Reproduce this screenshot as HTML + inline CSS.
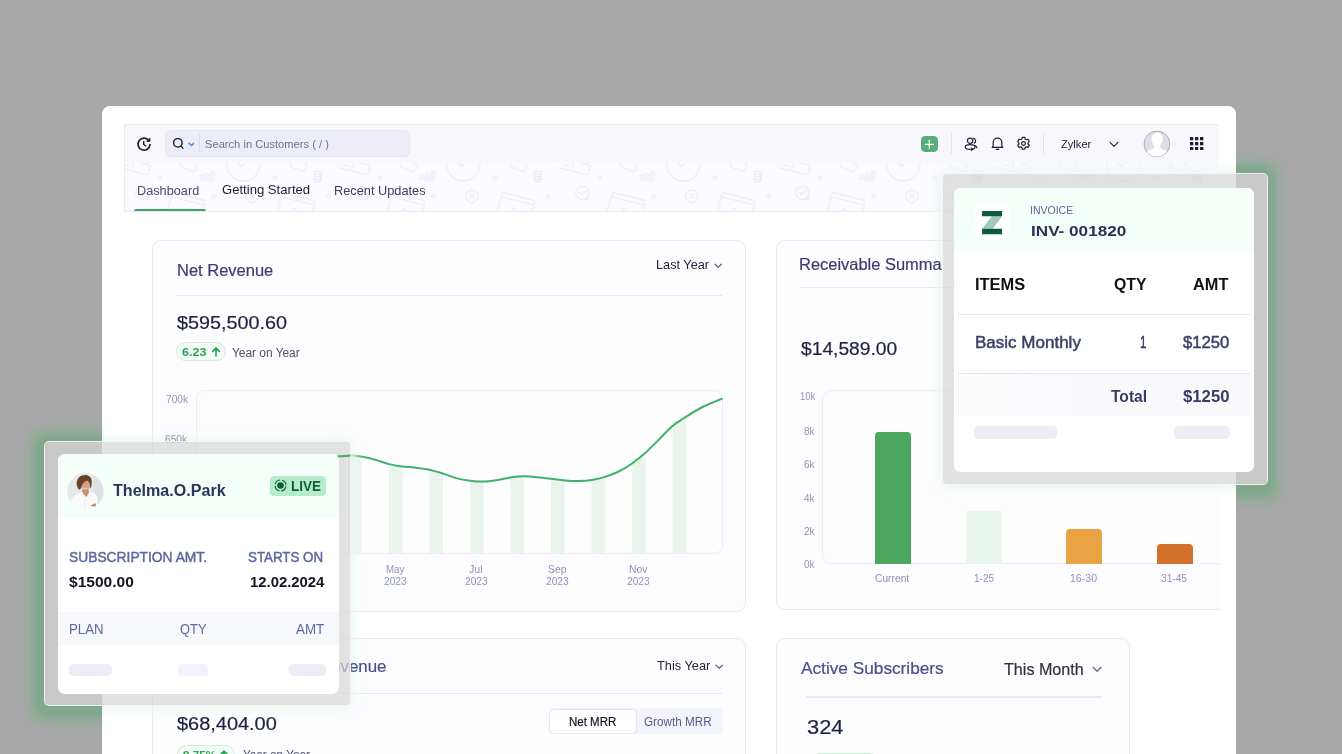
<!DOCTYPE html>
<html><head><meta charset="utf-8">
<style>
*{box-sizing:border-box;margin:0;padding:0}
html,body{width:1342px;height:754px;overflow:hidden;background:#a8a8a8;font-family:"Liberation Sans",sans-serif;}
.abs{position:absolute}
#stage{position:relative;width:1342px;height:754px;overflow:hidden}
.glow{position:absolute;border-radius:5px}
#panel{position:absolute;left:102px;top:106px;width:1134px;height:700px;background:#fff;border-radius:8px;overflow:hidden;z-index:0}
#pg .txt{z-index:2}
#pg{position:absolute;left:-102px;top:-106px;width:1342px;height:900px}
.txt{position:absolute;white-space:nowrap;line-height:1}
.card{position:absolute;border:1px solid #e7e7f3;border-radius:9px;background:#fdfdff}
.hr{position:absolute;height:1px;background:#e6e6f4}
.frame{position:absolute;background:rgba(214,214,214,.71);border:1.500px solid rgba(250,250,250,.8);border-radius:5px}
.haze{position:absolute;z-index:1;border-radius:8px;box-shadow:0 0 9px 3px rgba(214,237,220,.5),0 0 11px 6px rgba(252,255,253,.75)}
.fcard{position:absolute;background:#fff;border-radius:6.500px;overflow:hidden}
.pill{position:absolute;background:#ecedf5;border-radius:4.500px}
.gp{position:absolute;border:1px solid #cfeeda;background:#f4fcf7;border-radius:9.500px}
</style></head><body>
<div id="stage">
<div class="glow" style="left:45px;top:441.5px;width:304.5px;height:263px;box-shadow:-0.5px 2.5px 4px 9.5px rgba(128,168,140,.96),-0.5px 2.5px 4px 15.7px rgba(148,172,154,.85),-0.5px 2.5px 6px 20.2px rgba(160,172,163,.3)"></div>
<div class="glow" style="left:943px;top:173.5px;width:324px;height:310px;box-shadow:-3px 1.7px 4px 10.5px rgba(128,168,140,.96),-3px 1.7px 4px 16.7px rgba(148,172,154,.85),-3px 1.7px 6px 21.2px rgba(160,172,163,.3)"></div>
<div id="panel"><div id="pg">

<div class="abs" style="left:124px;top:124px;width:1094.500px;height:87.500px;border:1px solid #ebebf5;border-right:none;background:#fafaff;overflow:hidden">
  <div class="abs" style="left:0;top:0;width:100%;height:38px;background:#f7f7fc"></div>
  <svg class="abs" style="left:0;top:38px" width="1095" height="48" viewBox="0 0 1095 48">
   <defs><pattern id="dd" width="220" height="48" patternUnits="userSpaceOnUse" patternTransform="translate(34.500 0)">
    <g fill="none" stroke="#ebebf8" stroke-width="1.2" stroke-linecap="round" stroke-linejoin="round">
      <circle cx="0" cy="14.500" r="1.700"/><circle cx="220" cy="14.500" r="1.700"/>
      <circle cx="115.500" cy="14.500" r="1.700"/>
      <circle cx="54" cy="33.500" r="1.700"/><circle cx="168.800" cy="33.500" r="1.700"/>
      <g transform="translate(48.400 13.800) rotate(10)"><rect x="-7.500" y="-1" width="3" height="5" rx="1.500"/><rect x="-2.500" y="-3" width="3" height="7" rx="1.500"/><rect x="2.800" y="-6" width="3" height="10" rx="1.500"/></g>
      <circle cx="83.800" cy="1.600" r="16.500"/><path d="M77 -1l5 4.500 8-8"/>
      <circle cx="92.400" cy="33.200" r="6.300"/><path d="M90.400 31.200l4 4m0-4l-4 4"/>
      <g transform="translate(158.300 13.500)"><ellipse cx="0" cy="-4" rx="3.400" ry="1.700"/><path d="M-3.400-4v7.500a3.400 1.700 0 0 0 6.800 0v-7.500M-3.400-1.400a3.400 1.700 0 0 0 6.800 0M-3.400 1.200a3.400 1.700 0 0 0 6.800 0"/></g>
      <g transform="translate(26 42) rotate(14)"><rect x="-16" y="-9" width="34" height="20" rx="2"/><path d="M-16-4.500h34"/><circle cx="0" cy="6" r="2"/></g>
      <g transform="translate(136 42) rotate(14)"><rect x="-16" y="-9" width="34" height="20" rx="2"/><path d="M-16-4.500h34"/><circle cx="0" cy="6" r="2"/></g>
      <circle cx="203" cy="29.800" r="6.700"/><path d="M200 29.500l2.300 2.300 4-4.300M206 36.500l3 .8-.8-3"/>
      <g transform="translate(139 2.500) rotate(20)"><rect x="-8" y="-4" width="16" height="8" rx="2"/></g>
      <g transform="translate(29 2.500) rotate(20)"><rect x="-8" y="-4" width="16" height="8" rx="2"/></g>
      <g transform="translate(197 4) rotate(14)"><rect x="-4" y="-5" width="17" height="10" rx="2"/><path d="M-16-3h9M-13 1h6M-17 5h11"/></g>
      <g transform="translate(-22 4) rotate(14)"><rect x="-4" y="-5" width="17" height="10" rx="2"/><path d="M-16-3h9M-13 1h6M-17 5h11"/></g>
      <rect x="-54" y="8" width="3" height="12" rx="1.500" transform="rotate(8)"/>
    </g></pattern></defs>
   <rect width="1095" height="48" fill="url(#dd)"/>
  </svg>
</div>
<svg class="abs" style="left:135.800px;top:135.700px" width="16" height="16" viewBox="0 0 16 16" fill="none" stroke="#1b1e33" stroke-width="1.7" stroke-linecap="round" stroke-linejoin="round"><path d="M12.900 4.700A6 6 0 1 0 14 8.600"/><path d="M13.900 2.300v3.100h-3.100z" fill="#1b1e33" stroke-width=".8"/><path d="M7.700 5.600v2.900l1.900 1.300" stroke-width="1.500"/></svg>
<div class="abs" style="left:165px;top:130px;width:245px;height:27px;background:#ededf7;border:1px solid #e5e5f1;border-radius:6px"></div>
<svg class="abs" style="left:172px;top:136.700px" width="13" height="13" viewBox="0 0 14 14" fill="none" stroke="#1b1e33" stroke-width="1.5" stroke-linecap="round"><circle cx="6.300" cy="6.300" r="4.600"/><path d="M9.800 9.800l2 2.400"/></svg>
<svg class="abs" style="left:187.600px;top:142px" width="6.800" height="5.100" viewBox="0 0 8 6" fill="none" stroke="#4a8cf0" stroke-width="1.9" stroke-linecap="round" stroke-linejoin="round"><path d="M1.200 1.500l2.800 2.600 2.800-2.600"/></svg>
<div class="abs" style="left:199px;top:134px;width:1px;height:19px;background:#dcdcea"></div>
<div class="txt" style="left:204.90px;top:139.00px;font-size:11.50px;color:#6d7291;transform:scaleX(0.9694);transform-origin:0 0;">Search in Customers ( / )</div>

<div class="abs" style="left:921.200px;top:135.600px;width:16.700px;height:16.500px;background:#56af7b;border-radius:4.300px"></div>
<svg class="abs" style="left:921.200px;top:135.600px" width="16.700" height="16.500" viewBox="0 0 17 17" stroke="#fff" stroke-width="1.400" stroke-linecap="round"><path d="M8.500 4.500v8.200M4.300 8.600h8.400"/></svg>
<div class="abs" style="left:951px;top:133px;width:1px;height:21px;background:#e3e5ee"></div>
<svg class="abs" style="left:964px;top:136px" width="15" height="15" viewBox="0 0 15 15" fill="none" stroke="#24273d" stroke-width="1.25" stroke-linecap="round" stroke-linejoin="round"><circle cx="6.100" cy="4.700" r="2.700"/><ellipse cx="6.100" cy="10.900" rx="4.900" ry="2.400"/><path d="M9.600 2.400a2.500 2.500 0 0 1 .6 4.700"/><path d="M10.700 9.300c1.200.5 2 1.400 2.300 2.500"/><path d="M7.400 12.200l1.700 1.100-1.700 1" stroke-width="1.100"/></svg>
<svg class="abs" style="left:991px;top:135.700px" width="13" height="15" viewBox="0 0 14 16" fill="none" stroke="#1b1e33" stroke-width="1.3" stroke-linecap="round" stroke-linejoin="round"><path d="M2.300 11V7a4.700 4.700 0 0 1 9.400 0v4l1 1.200H1.300z"/><path d="M5.600 14.300h2.800"/></svg>
<svg class="abs" style="left:1016px;top:135.800px" width="15" height="15" viewBox="0 0 16 16" fill="none" stroke="#1b1e33" stroke-width="1.25" stroke-linejoin="round"><path d="M6.600 1.500h2.800l.4 1.800 1.300.7 1.700-.6 1.400 2.400-1.300 1.200v1.500l1.300 1.200-1.400 2.400-1.700-.6-1.300.7-.4 1.800H6.600l-.4-1.800-1.300-.7-1.700.6-1.400-2.400 1.300-1.200V7l-1.300-1.200 1.400-2.400 1.700.6 1.300-.7z"/><circle cx="8" cy="8" r="2"/></svg>
<div class="abs" style="left:1042.800px;top:133px;width:1px;height:21px;background:#e2e2ee"></div>
<div class="txt" style="left:1060.50px;top:139.00px;font-size:11.50px;color:#1b1e33;transform:scaleX(0.9680);transform-origin:0 0;">Zylker</div>

<svg class="abs" style="left:1109.200px;top:140.700px" width="10" height="7" viewBox="0 0 10 7" fill="none" stroke="#1b1e33" stroke-width="1.1" stroke-linecap="round" stroke-linejoin="round"><path d="M1 1.300l4 4 4-4"/></svg>
<svg class="abs" style="left:1142.600px;top:129.900px" width="28" height="28" viewBox="0 0 28 28"><defs><clipPath id="ac"><circle cx="14" cy="14" r="12.600"/></clipPath></defs><circle cx="14" cy="14" r="12.900" fill="#dedee9" stroke="#a6a6ae" stroke-width=".9"/><g clip-path="url(#ac)" fill="#fff"><ellipse cx="14.100" cy="9.200" rx="5.600" ry="6.800"/><path d="M11 13h6.200v4c0 1.500 1.500 2.200 4 3 2.500.8 3.800 2 3.800 8H3c0-6 1.300-7.200 3.800-8 2.500-.8 4.200-1.500 4.200-3z"/></g></svg>
<svg class="abs" style="left:1190px;top:136.700px" width="13.500" height="13.500" viewBox="0 0 14 14" fill="#1b1e33"><rect x="0" y="0" width="3.400" height="3.400"/><rect x="5.200" y="0" width="3.400" height="3.400"/><rect x="10.400" y="0" width="3.400" height="3.400"/><rect x="0" y="5.200" width="3.400" height="3.400"/><rect x="5.200" y="5.200" width="3.400" height="3.400"/><rect x="10.400" y="5.200" width="3.400" height="3.400"/><rect x="0" y="10.400" width="3.400" height="3.400"/><rect x="5.200" y="10.400" width="3.400" height="3.400"/><rect x="10.400" y="10.400" width="3.400" height="3.400"/></svg>
<div class="txt" style="left:136.70px;top:184.00px;font-size:13.00px;color:#4a4f6c;transform:scaleX(0.9780);transform-origin:0 0;">Dashboard</div>
<div class="txt" style="left:222.10px;top:183.00px;font-size:13.00px;color:#1b1e33;transform:scaleX(1.0076);transform-origin:0 0;">Getting Started</div>
<div class="txt" style="left:333.90px;top:184.00px;font-size:13.00px;color:#3a3f5c;transform:scaleX(0.9826);transform-origin:0 0;">Recent Updates</div>

<div class="abs" style="left:134px;top:208.700px;width:72px;height:2.800px;background:#3aa862;border-radius:2.500px 2.500px 0 0"></div>

<div class="card" style="left:152px;top:240px;width:594px;height:372px"></div>
<div class="txt" style="left:176.80px;top:263.00px;font-size:16.00px;color:#3d3a72;transform:scaleX(1.0311);transform-origin:0 0;-webkit-text-stroke:.2px #3d3a72;">Net Revenue</div>
<div class="txt" style="left:655.70px;top:258.00px;font-size:13.00px;color:#23263b;transform:scaleX(0.9777);transform-origin:0 0;">Last Year</div>
<svg class="abs" style="left:713.9px;top:263.1px" width="8.4" height="5.9" viewBox="0 0 10 7" fill="none" stroke="#6a6f90" stroke-width="1.70" stroke-linecap="round" stroke-linejoin="round"><path d="M1.3 1.4l3.7 3.7 3.7-3.700"/></svg>
<div class="hr" style="left:176px;top:295px;width:545.500px"></div>
<div class="txt" style="left:177.40px;top:314.00px;font-size:18.30px;color:#1f2240;transform:scaleX(1.0809);transform-origin:0 0;-webkit-text-stroke:.2px #1f2240;">$595,500.60</div>

<div class="gp" style="left:176px;top:342.300px;width:49.800px;height:18.800px"></div>
<div class="txt" style="left:181.90px;top:347.00px;font-size:11.50px;color:#2aa34f;transform:scaleX(1.0903);transform-origin:0 0;font-weight:bold;">6.23</div>
<svg class="abs" style="left:210.5px;top:346.8px" width="10" height="10" viewBox="0 0 10 10" fill="none" stroke="#1f9a48" stroke-width="1.5" stroke-linecap="round" stroke-linejoin="round"><path d="M5 9V1.200M1.700 4.400L5 1.100l3.300 3.300"/></svg><div class="txt" style="left:232.00px;top:347.00px;font-size:12.00px;color:#4a4f6c;transform:scaleX(0.9913);transform-origin:0 0;">Year on Year</div>
<div class="txt" style="left:166.10px;top:395.00px;font-size:10.30px;color:#8e93b8;transform:scaleX(0.9888);transform-origin:0 0;">700k</div>
<div class="txt" style="left:164.90px;top:435.00px;font-size:10.30px;color:#8e93b8;transform:scaleX(0.9888);transform-origin:0 0;">650k</div>
<div class="txt" style="left:164.90px;top:475.00px;font-size:10.30px;color:#8e93b8;transform:scaleX(0.9888);transform-origin:0 0;">600k</div>
<div class="txt" style="left:164.90px;top:515.00px;font-size:10.30px;color:#8e93b8;transform:scaleX(0.9888);transform-origin:0 0;">550k</div>

<div class="abs" style="left:196px;top:390px;width:526.500px;height:163.500px;border:1px solid #ececf6;border-radius:9px;background:#fdfdfe"></div>
<svg class="abs" style="left:0;top:0" width="1342" height="754"><g fill="#e9f4ed"><rect x="226.8" y="461.0" width="13.5" height="91.9"/><rect x="267.3" y="457.0" width="13.5" height="95.9"/><rect x="307.9" y="457.5" width="13.5" height="95.4"/><rect x="348.4" y="455.8" width="13.5" height="97.1"/><rect x="388.9" y="465.3" width="13.5" height="87.6"/><rect x="429.5" y="471.7" width="13.5" height="81.2"/><rect x="470.0" y="481.1" width="13.5" height="71.8"/><rect x="510.6" y="476.9" width="13.5" height="76.0"/><rect x="551.1" y="479.6" width="13.5" height="73.3"/><rect x="591.7" y="478.4" width="13.5" height="74.5"/><rect x="632.2" y="458.0" width="13.5" height="94.9"/><rect x="672.8" y="421.2" width="13.5" height="131.7"/></g><path d="M197.0 470.0C200.0 469.3 208.9 467.5 215.0 466.0C221.1 464.5 227.0 462.3 233.5 461.0C240.0 459.7 247.2 458.7 254.0 458.0C260.8 457.3 267.2 457.1 274.0 457.0C280.8 456.9 288.2 457.4 295.0 457.5C301.8 457.6 308.7 457.6 314.5 457.5C320.3 457.4 325.8 457.0 330.0 456.8C334.2 456.6 336.3 456.5 340.0 456.3C343.7 456.1 348.0 455.3 352.0 455.4C356.0 455.5 359.8 456.1 363.8 456.9C367.8 457.6 371.6 458.7 375.8 459.9C380.0 461.1 384.9 463.0 389.2 464.1C393.5 465.2 397.5 465.8 401.7 466.4C405.9 467.0 409.9 467.1 414.5 467.6C419.1 468.2 424.3 468.7 429.1 469.7C433.9 470.7 438.6 472.2 443.1 473.6C447.6 475.0 451.7 476.9 456.2 478.1C460.7 479.3 465.7 480.1 470.3 480.7C474.9 481.3 479.1 481.7 483.7 481.6C488.3 481.5 493.5 480.6 498.0 479.9C502.5 479.2 506.2 478.1 510.5 477.5C514.8 476.9 519.5 476.4 523.9 476.3C528.3 476.2 532.2 476.8 536.7 477.2C541.2 477.6 546.0 478.2 550.7 478.7C555.4 479.2 560.1 480.0 564.7 480.4C569.3 480.8 574.0 481.1 578.5 481.0C583.0 480.9 587.5 480.6 591.9 479.9C596.3 479.2 600.5 478.3 605.0 476.9C609.5 475.5 614.2 473.7 618.7 471.5C623.2 469.3 627.7 466.6 632.1 463.5C636.5 460.4 640.7 457.0 645.2 453.0C649.7 449.0 654.4 444.1 658.9 439.6C663.4 435.1 667.7 430.1 672.3 426.2C676.9 422.3 681.4 419.7 686.6 416.4C691.8 413.1 697.7 409.4 703.6 406.5C709.5 403.6 718.8 400.1 721.8 398.8" fill="none" stroke="#3fb16a" stroke-width="2" stroke-linecap="round"/></svg>
<div class="txt" style="left:224.45px;top:565.00px;font-size:10.00px;color:#8e93b8;transform:scaleX(1.0236);transform-origin:0 0;">Jan</div>
<div class="txt" style="left:221.40px;top:577.00px;font-size:10.00px;color:#8e93b8;transform:scaleX(1.0202);transform-origin:0 0;">2023</div>
<div class="txt" style="left:305.05px;top:565.00px;font-size:10.00px;color:#8e93b8;transform:scaleX(1.0163);transform-origin:0 0;">Mar</div>
<div class="txt" style="left:302.50px;top:577.00px;font-size:10.00px;color:#8e93b8;transform:scaleX(1.0202);transform-origin:0 0;">2023</div>
<div class="txt" style="left:385.80px;top:565.00px;font-size:10.00px;color:#8e93b8;transform:scaleX(0.9635);transform-origin:0 0;">May</div>
<div class="txt" style="left:383.60px;top:577.00px;font-size:10.00px;color:#8e93b8;transform:scaleX(1.0202);transform-origin:0 0;">2023</div>
<div class="txt" style="left:469.25px;top:565.00px;font-size:10.00px;color:#8e93b8;transform:scaleX(1.0563);transform-origin:0 0;">Jul</div>
<div class="txt" style="left:464.70px;top:577.00px;font-size:10.00px;color:#8e93b8;transform:scaleX(1.0202);transform-origin:0 0;">2023</div>
<div class="txt" style="left:547.85px;top:565.00px;font-size:10.00px;color:#8e93b8;transform:scaleX(1.0399);transform-origin:0 0;">Sep</div>
<div class="txt" style="left:545.80px;top:577.00px;font-size:10.00px;color:#8e93b8;transform:scaleX(1.0202);transform-origin:0 0;">2023</div>
<div class="txt" style="left:628.95px;top:565.00px;font-size:10.00px;color:#8e93b8;transform:scaleX(1.0405);transform-origin:0 0;">Nov</div>
<div class="txt" style="left:626.90px;top:577.00px;font-size:10.00px;color:#8e93b8;transform:scaleX(1.0202);transform-origin:0 0;">2023</div>

<div class="abs" style="left:776px;top:240px;width:444.500px;height:372px;overflow:hidden">
 <div class="card" style="left:0;top:0;width:470px;height:369.500px"></div>
</div>
<div class="abs" style="left:0;top:0;width:942px;height:754px;overflow:hidden"><div class="txt" style="left:798.80px;top:257.00px;font-size:16.00px;color:#3d3a72;transform:scaleX(1.0286);transform-origin:0 0;-webkit-text-stroke:.2px #3d3a72;">Receivable Summary</div>
</div>
<div class="hr" style="left:799.500px;top:287.300px;width:421px"></div>
<div class="txt" style="left:801.20px;top:340.00px;font-size:18.30px;color:#1f2240;transform:scaleX(1.0514);transform-origin:0 0;-webkit-text-stroke:.2px #1f2240;">$14,589.00</div>

<div class="abs" style="left:822px;top:390px;width:420px;height:174px;border:1px solid #ececf6;border-radius:9px 0 0 9px;background:#fdfdfe;clip-path:inset(0 22px 0 0)"></div>
<div class="txt" style="left:799.70px;top:392.00px;font-size:10.30px;color:#8e93b8;transform:scaleX(0.9143);transform-origin:0 0;">10k</div>
<div class="txt" style="left:804.30px;top:427.00px;font-size:10.30px;color:#8e93b8;transform:scaleX(0.9727);transform-origin:0 0;">8k</div>
<div class="txt" style="left:804.30px;top:460.00px;font-size:10.30px;color:#8e93b8;transform:scaleX(0.9727);transform-origin:0 0;">6k</div>
<div class="txt" style="left:804.30px;top:494.00px;font-size:10.30px;color:#8e93b8;transform:scaleX(0.9727);transform-origin:0 0;">4k</div>
<div class="txt" style="left:804.30px;top:527.00px;font-size:10.30px;color:#8e93b8;transform:scaleX(0.9727);transform-origin:0 0;">2k</div>
<div class="txt" style="left:804.30px;top:560.00px;font-size:10.30px;color:#8e93b8;transform:scaleX(0.9727);transform-origin:0 0;">0k</div>

<div class="abs" style="left:875px;top:431.500px;width:35.500px;height:132px;background:#4ca75e;border-radius:4px 4px 0 0"></div>
<div class="abs" style="left:966px;top:510.500px;width:35.500px;height:53px;background:#e9f4ed;border-radius:4px 4px 0 0"></div>
<div class="abs" style="left:1066px;top:529px;width:36px;height:34.500px;background:#e9a345;border-radius:4px 4px 0 0"></div>
<div class="abs" style="left:1157px;top:543.500px;width:36px;height:20px;background:#d4722b;border-radius:4px 4px 0 0"></div>
<div class="txt" style="left:874.80px;top:574.00px;font-size:10.00px;color:#8e93b8;transform:scaleX(1.0255);transform-origin:0 0;">Current</div>
<div class="txt" style="left:973.60px;top:574.00px;font-size:10.00px;color:#8e93b8;transform:scaleX(1.0095);transform-origin:0 0;">1-25</div>
<div class="txt" style="left:1070.00px;top:574.00px;font-size:10.00px;color:#8e93b8;transform:scaleX(1.0555);transform-origin:0 0;">16-30</div>
<div class="txt" style="left:1161.00px;top:574.00px;font-size:10.00px;color:#8e93b8;transform:scaleX(1.0164);transform-origin:0 0;">31-45</div>

<div class="card" style="left:152px;top:638px;width:594px;height:300px"></div>
<div class="txt" style="left:176.80px;top:659.00px;font-size:16.00px;color:#47508a;transform:scaleX(1.0564);transform-origin:0 0;-webkit-text-stroke:.2px #47508a;">Monthly Recurring Revenue</div>
<div class="txt" style="left:656.70px;top:659.00px;font-size:13.00px;color:#23263b;transform:scaleX(0.9834);transform-origin:0 0;">This Year</div>
<svg class="abs" style="left:714.6px;top:664.1px" width="8.4" height="5.9" viewBox="0 0 10 7" fill="none" stroke="#6a6f90" stroke-width="1.70" stroke-linecap="round" stroke-linejoin="round"><path d="M1.3 1.4l3.7 3.7 3.7-3.700"/></svg>
<div class="hr" style="left:176px;top:692.800px;width:545.500px"></div>
<div class="txt" style="left:177.40px;top:715.00px;font-size:18.30px;color:#1f2240;transform:scaleX(1.0907);transform-origin:0 0;-webkit-text-stroke:.2px #1f2240;">$68,404.00</div>

<div class="abs" style="left:549px;top:708.200px;width:173.500px;height:26.300px;background:#f3f3fb;border-radius:5px"></div>
<div class="abs" style="left:550.300px;top:709.500px;width:85.700px;height:23.800px;background:#fff;border-radius:4px;box-shadow:0 0 2px rgba(80,80,120,.28)"></div>
<div class="txt" style="left:569.40px;top:716.00px;font-size:12.50px;color:#14151f;transform:scaleX(0.9205);transform-origin:0 0;-webkit-text-stroke:.2px #14151f;">Net MRR</div>
<div class="txt" style="left:643.60px;top:716.00px;font-size:12.50px;color:#555a8a;transform:scaleX(0.9360);transform-origin:0 0;">Growth MRR</div>

<div class="gp" style="left:177px;top:745.200px;width:57.500px;height:18.500px"></div>
<div class="txt" style="left:182.50px;top:750.00px;font-size:11.50px;color:#2aa34f;transform:scaleX(1.0122);transform-origin:0 0;font-weight:bold;">9.75%</div>
<svg class="abs" style="left:219.0px;top:749.6px" width="10" height="10" viewBox="0 0 10 10" fill="none" stroke="#1f9a48" stroke-width="1.5" stroke-linecap="round" stroke-linejoin="round"><path d="M5 9V1.200M1.700 4.400L5 1.100l3.300 3.300"/></svg><div class="txt" style="left:243.40px;top:749.00px;font-size:12.00px;color:#4a4f6c;transform:scaleX(0.9796);transform-origin:0 0;">Year on Year</div>

<div class="card" style="left:776px;top:638px;width:354px;height:300px"></div>
<div class="txt" style="left:800.90px;top:660.00px;font-size:17.00px;color:#47508a;transform:scaleX(1.0137);transform-origin:0 0;-webkit-text-stroke:.2px #47508a;">Active Subscribers</div>
<div class="txt" style="left:1004.20px;top:661.00px;font-size:16.50px;color:#2e3040;transform:scaleX(0.9766);transform-origin:0 0;-webkit-text-stroke:.2px #2e3040;">This Month</div>
<svg class="abs" style="left:1091.8px;top:665.7px" width="10.3" height="7.2" viewBox="0 0 10 7" fill="none" stroke="#6a6f90" stroke-width="1.50" stroke-linecap="round" stroke-linejoin="round"><path d="M1.3 1.4l3.7 3.7 3.7-3.700"/></svg>
<div class="abs" style="left:805.500px;top:696px;width:295px;height:1.800px;background:#e9e9f5"></div>
<div class="txt" style="left:806.80px;top:718.00px;font-size:19.80px;color:#1f2240;transform:scaleX(1.1052);transform-origin:0 0;-webkit-text-stroke:.2px #1f2240;">324</div>

<div class="abs" style="left:812px;top:752.700px;width:66px;height:18px;background:#c9efd5;border-radius:9px"></div>

<div class="haze" style="left:45px;top:441.500px;width:304.500px;height:263px"></div>
<div class="haze" style="left:943px;top:173.500px;width:324px;height:311px"></div>

</div></div>

<div class="frame" style="left:44px;top:440.500px;width:306.500px;height:265px"></div>
<svg class="abs" style="left:0;top:0;clip-path:inset(440px 991.500px 240px 338px)" width="1342" height="754"><path d="M197.0 470.0C200.0 469.3 208.9 467.5 215.0 466.0C221.1 464.5 227.0 462.3 233.5 461.0C240.0 459.7 247.2 458.7 254.0 458.0C260.8 457.3 267.2 457.1 274.0 457.0C280.8 456.9 288.2 457.4 295.0 457.5C301.8 457.6 308.7 457.6 314.5 457.5C320.3 457.4 325.8 457.0 330.0 456.8C334.2 456.6 336.3 456.5 340.0 456.3C343.7 456.1 348.0 455.3 352.0 455.4C356.0 455.5 359.8 456.1 363.8 456.9C367.8 457.6 371.6 458.7 375.8 459.9C380.0 461.1 384.9 463.0 389.2 464.1C393.5 465.2 397.5 465.8 401.7 466.4C405.9 467.0 409.9 467.1 414.5 467.6C419.1 468.2 424.3 468.7 429.1 469.7C433.9 470.7 438.6 472.2 443.1 473.6C447.6 475.0 451.7 476.9 456.2 478.1C460.7 479.3 465.7 480.1 470.3 480.7C474.9 481.3 479.1 481.7 483.7 481.6C488.3 481.5 493.5 480.6 498.0 479.9C502.5 479.2 506.2 478.1 510.5 477.5C514.8 476.9 519.5 476.4 523.9 476.3C528.3 476.2 532.2 476.8 536.7 477.2C541.2 477.6 546.0 478.2 550.7 478.7C555.4 479.2 560.1 480.0 564.7 480.4C569.3 480.8 574.0 481.1 578.5 481.0C583.0 480.9 587.5 480.6 591.9 479.9C596.3 479.2 600.5 478.3 605.0 476.9C609.5 475.5 614.2 473.7 618.7 471.5C623.2 469.3 627.7 466.6 632.1 463.5C636.5 460.4 640.7 457.0 645.2 453.0C649.7 449.0 654.4 444.1 658.9 439.6C663.4 435.1 667.7 430.1 672.3 426.2C676.9 422.3 681.4 419.7 686.6 416.4C691.8 413.1 697.7 409.4 703.6 406.5C709.5 403.6 718.8 400.1 721.8 398.8" fill="none" stroke="#3fb16a" stroke-width="2" stroke-linecap="round"/></svg>
<div class="fcard" style="left:57.700px;top:453.800px;width:281px;height:240px">
  <div class="abs" style="left:0;top:0;width:100%;height:64px;background:#f5fffa"></div>
  <div class="abs" style="left:0;top:158.200px;width:100%;height:33.600px;background:#f7f8fc"></div>
</div>
<svg class="abs" style="left:67.300px;top:472.700px" width="36.600" height="36.600" viewBox="0 0 36.600 36.600"><defs><clipPath id="tc"><circle cx="18.300" cy="18.300" r="18.200"/></clipPath><filter id="bl"><feGaussianBlur stdDeviation=".35"/></filter></defs>
  <g clip-path="url(#tc)"><rect width="37" height="37" fill="#e5e7e9"/>
  <path d="M26 0h11v37H30z" fill="#dfe0e4"/>
  <g filter="url(#bl)">
  <path d="M3 37c-.5-7 1-12 5-14.500 2.500-1.500 5.500-2.500 8.500-4l3.200 3.500 3.300-3.500c3 1 5.500 2 6.500 4.500 1.200 3 1.500 8 1.500 14z" fill="#fafafb"/>
  <path d="M17.800 24l.2 13" stroke="#e6e7ea" stroke-width=".6" fill="none"/>
  <path d="M14.800 16.500h6.600l.4 3.300-2.300 4.200-3.400-3.200z" fill="#c48d6d"/>
  <ellipse cx="18.700" cy="11.400" rx="4.400" ry="6.300" fill="#d4a182"/>
  <path d="M16 14.200c1.200 1.300 3.500 1.300 4.800 0-.8 2-4 2-4.800 0z" fill="#fff"/>
  <path d="M12.300 16.800c-3.500-3-3.600-10 .2-12.800 3-2.300 7.800-2.700 10.200-.2 2.300 1.600 2.400 5.500 1.800 8.800-.2 1.200-.6 2.400-1.300 3 .3-3.600-.5-6.600-2.800-8.200-2.700 1-5.200 2.600-5.600 5.400-.3 2-.8 3.300-2.500 4z" fill="#65402c"/>
  <path d="M23.600 33c1.600-1.500 3.800-2.800 5.600-2.400l-.6 3.200z" fill="#c98b68"/>
  </g></g></svg>
<div class="txt" style="left:112.90px;top:483.00px;font-size:16.80px;color:#30335c;transform:scaleX(0.9585);transform-origin:0 0;font-weight:bold;">Thelma.O.Park</div>

<div class="abs" style="left:270px;top:476.200px;width:55.800px;height:19.600px;background:#b5ecc9;border-radius:4px"></div>
<svg class="abs" style="left:274px;top:479.300px" width="13" height="13" viewBox="0 0 13 13" fill="none" stroke="#0d5c3c"><circle cx="6.500" cy="6.500" r="5.500" stroke-width="1.1" stroke-dasharray="6.600 2.040" stroke-dashoffset="-1"/><circle cx="6.500" cy="6.500" r="3.300" fill="#0d5c3c" stroke="none"/></svg>
<div class="txt" style="left:290.50px;top:479.00px;font-size:14.00px;color:#0d5c3c;transform:scaleX(0.9607);transform-origin:0 0;font-weight:bold;">LIVE</div>
<div class="txt" style="left:68.60px;top:550.00px;font-size:14.00px;color:#5a6a9e;transform:scaleX(0.9862);transform-origin:0 0;-webkit-text-stroke:.45px #5a6a9e;">SUBSCRIPTION AMT.</div>
<div class="txt" style="left:248.30px;top:550.00px;font-size:14.00px;color:#5a6a9e;transform:scaleX(0.9515);transform-origin:0 0;-webkit-text-stroke:.45px #5a6a9e;">STARTS ON</div>
<div class="txt" style="left:68.60px;top:575.00px;font-size:14.30px;color:#14151f;transform:scaleX(1.0864);transform-origin:0 0;font-weight:bold;">$1500.00</div>
<div class="txt" style="left:250.20px;top:575.00px;font-size:14.30px;color:#14151f;transform:scaleX(1.0395);transform-origin:0 0;font-weight:bold;">12.02.2024</div>
<div class="txt" style="left:68.60px;top:622.00px;font-size:14.00px;color:#5a6a9e;transform:scaleX(0.9462);transform-origin:0 0;">PLAN</div>
<div class="txt" style="left:180.20px;top:622.00px;font-size:14.00px;color:#5a6a9e;transform:scaleX(0.9207);transform-origin:0 0;">QTY</div>
<div class="txt" style="left:296.40px;top:622.00px;font-size:14.00px;color:#5a6a9e;transform:scaleX(0.9542);transform-origin:0 0;">AMT</div>

<div class="pill" style="left:68.600px;top:664.100px;width:43.500px;height:11.600px"></div>
<div class="pill" style="left:178px;top:664.100px;width:30.200px;height:11.600px;background:#f2f3fa"></div>
<div class="pill" style="left:288.700px;top:664.100px;width:37.300px;height:11.600px"></div>

<div class="frame" style="left:942px;top:172.500px;width:326px;height:312.200px"></div>
<div class="fcard" style="left:954px;top:188px;width:300px;height:283.700px">
  <div class="abs" style="left:0;top:0;width:100%;height:63.600px;background:#f5fffa"></div>
  <div class="abs" style="left:20.500px;top:15.400px;width:35.500px;height:36.500px;background:#fff;border-radius:7px"></div>
  <svg class="abs" style="left:28px;top:22.500px" width="21" height="24" viewBox="0 0 21 24"><path d="M10 5.300H20.100L10.800 17.800H.2z" fill="#a3c9b8"/><path d="M.1 0h20v5.300H.1zM.1 17.700h20v5.500H.1z" fill="#0c5a40"/></svg>
  <div class="abs" style="left:4.300px;top:126.300px;width:291.500px;height:1px;background:#e3e4f1"></div>
  <div class="abs" style="left:4.300px;top:185.300px;width:291.500px;height:1px;background:#e3e4f1"></div>
  <div class="abs" style="left:4.300px;top:186.200px;width:291.500px;height:41.500px;background:linear-gradient(90deg,#fdfdfe 0%,#f9f9fc 45%)"></div>
</div>
<div class="txt" style="left:1029.70px;top:205.00px;font-size:10.80px;color:#5a6794;transform:scaleX(0.9728);transform-origin:0 0;">INVOICE</div>
<div class="txt" style="left:1030.70px;top:223.00px;font-size:15.30px;color:#2d3056;transform:scaleX(1.1203);transform-origin:0 0;font-weight:bold;">INV- 001820</div>
<div class="txt" style="left:974.70px;top:276.00px;font-size:16.40px;color:#111;transform:scaleX(0.9996);transform-origin:0 0;font-weight:bold;">ITEMS</div>
<div class="txt" style="left:1114.20px;top:276.00px;font-size:16.40px;color:#111;transform:scaleX(0.9668);transform-origin:0 0;font-weight:bold;">QTY</div>
<div class="txt" style="left:1192.50px;top:276.00px;font-size:16.40px;color:#111;transform:scaleX(0.9966);transform-origin:0 0;font-weight:bold;">AMT</div>
<div class="txt" style="left:974.70px;top:334.00px;font-size:16.20px;color:#3a4068;transform:scaleX(1.0511);transform-origin:0 0;-webkit-text-stroke:.45px #3a4068;">Basic Monthly</div>
<div class="txt" style="left:1139.90px;top:334.00px;font-size:16.20px;color:#3a4068;transform:scaleX(0.7105);transform-origin:0 0;-webkit-text-stroke:.45px #3a4068;">1</div>
<div class="txt" style="left:1182.60px;top:334.00px;font-size:16.20px;color:#3a4068;transform:scaleX(1.0299);transform-origin:0 0;-webkit-text-stroke:.45px #3a4068;">$1250</div>
<div class="txt" style="left:1110.90px;top:388.00px;font-size:16.50px;color:#363c66;transform:scaleX(0.9455);transform-origin:0 0;font-weight:bold;">Total</div>
<div class="txt" style="left:1182.50px;top:388.00px;font-size:16.50px;color:#363c66;transform:scaleX(1.0134);transform-origin:0 0;font-weight:bold;">$1250</div>

<div class="pill" style="left:973.800px;top:426px;width:82.800px;height:12.700px"></div>
<div class="pill" style="left:1174.100px;top:426px;width:56.100px;height:12.700px"></div>

</div>
</body></html>
